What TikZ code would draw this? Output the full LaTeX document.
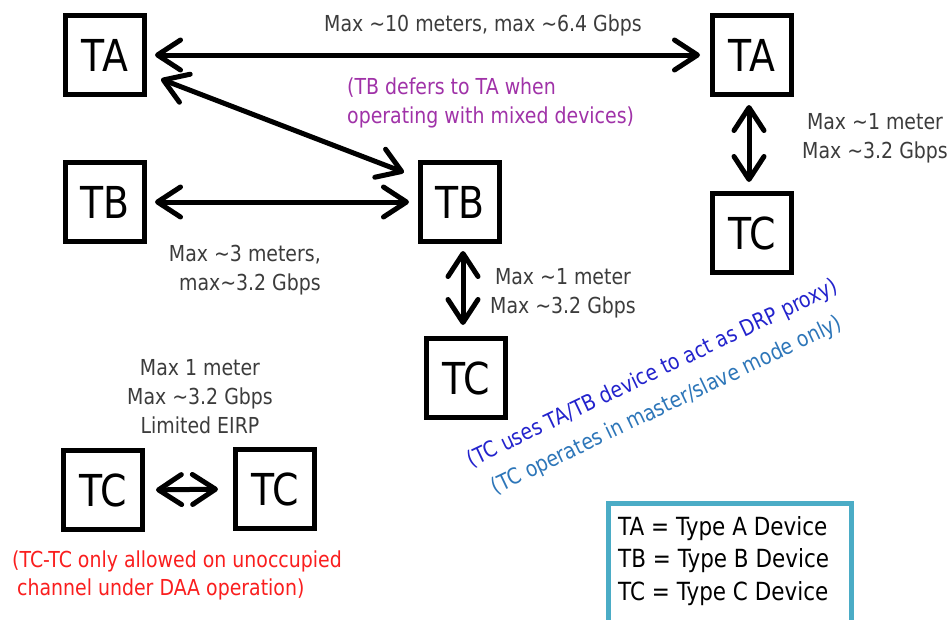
\documentclass[tikz,border=0pt]{standalone}
\usepackage{fontspec}
\setmainfont{DejaVu Sans}[FakeStretch=0.86]
\usetikzlibrary{arrows.meta}
\newcommand\tld{\textasciitilde}
\definecolor{lbl}{RGB}{60,60,60}
\definecolor{purp}{RGB}{160,50,168}
\definecolor{dblue}{RGB}{35,35,205}
\definecolor{lblue}{RGB}{45,118,185}
\definecolor{rred}{RGB}{250,30,30}
\definecolor{teal}{RGB}{75,172,198}
\tikzset{
  devbox/.style={draw, line width=5pt, minimum width=79pt, minimum height=79pt, inner sep=0pt, font=\fontsize{44}{44}\selectfont},
  dbl/.style={line width=5pt, {Straight Barb[length=23pt,width=30pt,round]}-{Straight Barb[length=23pt,width=30pt,round]}},
  lab/.style={text=lbl, font=\fontsize{22}{29}\selectfont, align=center, inner sep=0pt},
}
\begin{document}
\begin{tikzpicture}[x=1pt,y=-1pt]
\clip (0,0) rectangle (951,619);
\fill[white] (0,0) rectangle (951,619);
% devices
\node[devbox] (ta1) at (105,55) {TA};
\node[devbox] (ta2) at (752,55) {TA};
\node[devbox] (tb1) at (105,202) {TB};
\node[devbox] (tb2) at (460,202) {TB};
\node[devbox] (tcr) at (752,233) {TC};
\node[devbox] (tcm) at (466,378) {TC};
\node[devbox] (tcl) at (103,490) {TC};
\node[devbox] (tcrr) at (275,489) {TC};
% connectors
\draw[dbl, shorten <=8pt, shorten >=10pt] (ta1.east) -- (ta2.west);
\draw[dbl, shorten <=15pt, shorten >=15pt] (ta1.-24) -- (tb2.150);
\draw[dbl, shorten <=8pt, shorten >=9pt] (tb1.east) -- (tb2.west);
\draw[dbl, shorten <=8pt, shorten >=9pt] ([xshift=-3pt]ta2.south) -- ([xshift=-3pt]tcr.north);
\draw[dbl, shorten <=7pt, shorten >=11pt] ([xshift=3pt]tb2.south) -- ([xshift=-3pt]tcm.north);
\draw[dbl, shorten <=11pt, shorten >=15pt] (tcl.east) -- (tcrr.west);
% labels
\node[lab] (l1) at (483,25) {Max \tld10 meters, max \tld6.4 Gbps};
\node[lab, text=purp, align=left, anchor=west] (l2) at (347,103) {(TB defers to TA when\\operating with mixed devices)};
\node[lab, align=right, anchor=east] (l3) at (321,270) {Max \tld3 meters,\\max\tld3.2 Gbps};
\node[lab] (l4) at (563,293) {Max \tld1 meter\\Max \tld3.2 Gbps};
\node[lab] (l5) at (875,138) {Max \tld1 meter\\Max \tld3.2 Gbps};
\node[lab] (l6) at (200,397) {Max 1 meter\\Max \tld3.2 Gbps\\Limited EIRP};
\node[lab, text=rred, align=left, anchor=west, font=\fontsize{22}{28}\selectfont] (l7) at (12,575) {(TC-TC only allowed on unoccupied\\\hspace*{5pt}channel under DAA operation)};
\node[lab, text=dblue, rotate=25.5] (l8) at (653,374) {(TC uses TA/TB device to act as DRP proxy)};
\node[lab, text=lblue, rotate=25.5] (l9) at (667,406) {(TC operates in master/slave mode only)};
% legend
\draw[teal, line width=5pt] (608.5,640) -- (608.5,503.5) -- (851.5,503.5) -- (851.5,640);
\node[align=left, anchor=west, inner sep=0pt, font=\fontsize{25}{32.5}\selectfont] (legend) at (618,561) {TA = Type A Device\\TB = Type B Device\\TC = Type C Device};
\end{tikzpicture}
\end{document}
